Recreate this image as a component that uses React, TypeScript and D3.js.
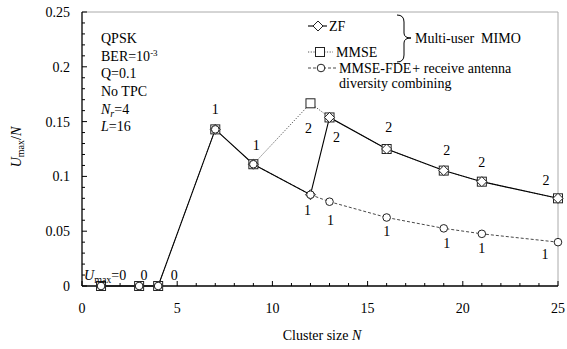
import React from 'react';
import * as d3 from 'd3';

// cluster sizes and U_max/N for each scheme
const clusterN = [1, 3, 4, 7, 9, 12, 13, 16, 19, 21, 25];
const zfVals = [0, 0, 0, 0.1429, 0.1111, 0.0833, 0.1538, 0.125, 0.1053, 0.0952, 0.08];
const mmseVals = [0, 0, 0, 0.1429, 0.1111, 0.1667, 0.1538, 0.125, 0.1053, 0.0952, 0.08];
const fdeVals = [0, 0, 0, 0.1429, 0.1111, 0.0833, 0.0769, 0.0625, 0.0526, 0.0476, 0.04];

// U_max labels next to the points
const upperLabels = [
  { n: 7, v: 0.1429, text: '1' },
  { n: 9, v: 0.1111, text: '1' },
  { n: 12, v: 0.1667, text: '2' },
  { n: 13, v: 0.1538, text: '2' },
  { n: 16, v: 0.125, text: '2' },
  { n: 19, v: 0.1053, text: '2' },
  { n: 21, v: 0.0952, text: '2' },
  { n: 25, v: 0.08, text: '2' },
];
const lowerLabels = [
  { n: 12, v: 0.0833, text: '1' },
  { n: 13, v: 0.0769, text: '1' },
  { n: 16, v: 0.0625, text: '1' },
  { n: 19, v: 0.0526, text: '1' },
  { n: 21, v: 0.0476, text: '1' },
  { n: 25, v: 0.04, text: '1' },
];
// offsets of the labels (px)
const upperOffsets = [[0, -20], [3, -19], [-2, 25], [7, 20], [2, -22], [3, -20], [0, -20], [-12, -18]];
const lowerOffsets = [[-3, 15], [1, 18], [0, 14], [3, 15], [0, 14], [-13, 12]];

const yTicks = [0, 0.05, 0.1, 0.15, 0.2, 0.25];
const xTicks = [0, 5, 10, 15, 20, 25];

const W = 567;
const H = 349;
const ts: React.CSSProperties = { fontFamily: 'Liberation Serif', fontSize: 14 };

const x = d3.scaleLinear().domain([0, 25]).range([82, 558]);
const y = d3.scaleLinear().domain([0, 0.25]).range([286, 12]);

const lineFrom = (start: number) => d3.line<number>()
  .x((d, i) => x(clusterN[i + start]))
  .y(d => y(d));

const Square = ({ cx, cy }: { cx: number; cy: number }) =>
  <rect x={cx - 4.5} y={cy - 4.5} width={9} height={9} fill="white" stroke="#222" strokeWidth={1} />;
const Diamond = ({ cx, cy }: { cx: number; cy: number }) =>
  <path d={`M${cx},${cy - 5}L${cx + 5},${cy}L${cx},${cy + 5}L${cx - 5},${cy}Z`} fill="white" stroke="#222" strokeWidth={1} />;
const Circle = ({ cx, cy }: { cx: number; cy: number }) =>
  <circle cx={cx} cy={cy} r={3.8} fill="white" stroke="#222" strokeWidth={1} />;

export default function App() {
  const minorY = d3.range(0, 26).map(i => i * 0.01);
  const minorX = d3.range(0, 26);

  return (
    <svg width={W} height={H} style={{ position: 'absolute', left: 0, top: 0, background: 'white' }}>
      {/* frame */}
      <line x1={x(0)} x2={x(25)} y1={y(0.25)} y2={y(0.25)} stroke="#aaa" />
      <line x1={x(25)} x2={x(25)} y1={y(0.25)} y2={y(0)} stroke="#aaa" />
      <line x1={x(0)} x2={x(0)} y1={y(0.25)} y2={y(0)} stroke="black" strokeWidth={1.3} />
      <line x1={x(0)} x2={x(25)} y1={y(0)} y2={y(0)} stroke="black" strokeWidth={1.3} />

      {/* ticks */}
      {minorY.map((t, i) => (
        <line key={'yt' + i} x1={x(0)} x2={x(0) + (i % 5 === 0 ? 5 : 3)} y1={y(t)} y2={y(t)} stroke="black" />
      ))}
      {minorX.map((t, i) => (
        <line key={'xt' + i} x1={x(t)} x2={x(t)} y1={y(0)} y2={y(0) - (i % 5 === 0 ? 5 : 3)} stroke="black" />
      ))}
      {yTicks.map(t => (
        <text key={'yl' + t} style={ts} x={70} y={y(t)} dy="0.35em" textAnchor="end">{t}</text>
      ))}
      {xTicks.map(t => (
        <text key={'xl' + t} style={ts} x={x(t)} y={308} dy="0.35em" textAnchor="middle">{t}</text>
      ))}

      {/* axis titles */}
      <text style={ts} x={322} y={335} dy="0.35em" textAnchor="middle">
        Cluster size <tspan fontStyle="italic">N</tspan>
      </text>
      <text style={ts} transform="translate(16,147) rotate(-90)" textAnchor="middle" dy="0.35em">
        <tspan fontStyle="italic">U</tspan>
        <tspan fontSize={10} dy={3}>max</tspan>
        <tspan dy={-3}>/</tspan>
        <tspan fontStyle="italic">N</tspan>
      </text>

      {/* series lines */}
      <path d={lineFrom(4)(fdeVals.slice(4))!} fill="none" stroke="#333" strokeWidth={0.9} strokeDasharray="3,2" />
      <path d={lineFrom(0)(mmseVals)!} fill="none" stroke="#444" strokeWidth={0.9} strokeDasharray="1.2,1.5" />
      <path d={lineFrom(0)(zfVals)!} fill="none" stroke="black" strokeWidth={1.1} />

      {/* markers */}
      {clusterN.map((n, i) => <Square key={'s' + i} cx={x(n)} cy={y(mmseVals[i])} />)}
      {clusterN.map((n, i) => <Diamond key={'d' + i} cx={x(n)} cy={y(zfVals[i])} />)}
      {clusterN.map((n, i) => <Circle key={'c' + i} cx={x(n)} cy={y(fdeVals[i])} />)}

      {/* U_max labels */}
      {upperLabels.map((l, i) => (
        <text key={'ul' + i} style={ts} x={x(l.n) + upperOffsets[i][0]} y={y(l.v) + upperOffsets[i][1]} dy="0.35em" textAnchor="middle">{l.text}</text>
      ))}
      {lowerLabels.map((l, i) => (
        <text key={'ll' + i} style={ts} x={x(l.n) + lowerOffsets[i][0]} y={y(l.v) + lowerOffsets[i][1]} dy="0.35em" textAnchor="middle">{l.text}</text>
      ))}
      <text style={ts} x={84} y={275} dy="0.35em">
        <tspan fontStyle="italic">U</tspan>
        <tspan fontSize={10} dy={3}>max</tspan>
        <tspan dy={-3}>=0</tspan>
      </text>
      <text style={ts} x={x(3) + 5} y={275} dy="0.35em" textAnchor="middle">0</text>
      <text style={ts} x={x(4) + 16} y={275} dy="0.35em" textAnchor="middle">0</text>

      {/* conditions */}
      <g>
        <text style={ts} x={101} y={38} dy="0.35em">QPSK</text>
        <text style={ts} x={101} y={56} dy="0.35em">BER=10<tspan fontSize={9} dy={-5}>-3</tspan></text>
        <text style={ts} x={101} y={73} dy="0.35em">Q=0.1</text>
        <text style={ts} x={101} y={91} dy="0.35em">No TPC</text>
        <text style={ts} x={101} y={109} dy="0.35em">
          <tspan fontStyle="italic">N</tspan><tspan fontStyle="italic" fontSize={10} dy={3}>r</tspan><tspan dy={-3}>=4</tspan>
        </text>
        <text style={ts} x={101} y={126} dy="0.35em"><tspan fontStyle="italic">L</tspan>=16</text>
      </g>

      {/* legend */}
      <g>
        <line x1={308} x2={327} y1={26} y2={26} stroke="black" strokeWidth={1.1} />
        <Diamond cx={318} cy={26} />
        <text style={ts} x={329} y={26} dy="0.35em">ZF</text>

        <line x1={308} x2={333} y1={52} y2={52} stroke="#444" strokeWidth={0.9} strokeDasharray="1.2,1.5" />
        <Square cx={320} cy={52} />
        <text style={ts} x={336} y={52} dy="0.35em">MMSE</text>

        <line x1={308} x2={336} y1={68} y2={68} stroke="#333" strokeWidth={0.9} strokeDasharray="3,2" />
        <Circle cx={321} cy={68} />
        <text style={ts} x={339} y={68} dy="0.35em">MMSE-FDE<tspan dx={1}>+</tspan> receive antenna</text>
        <text style={ts} x={339} y={83} dy="0.35em">diversity combining</text>

        <path d="M397,15 Q404,15 404,22 L404,33 Q404,38 411,38 Q404,38 404,43 L404,55 Q404,62 397,62"
          fill="none" stroke="black" strokeWidth={1} />
        <text style={ts} x={415} y={38} dy="0.35em">{'Multi-user\u00a0\u00a0MIMO'}</text>
      </g>
    </svg>
  );
}
